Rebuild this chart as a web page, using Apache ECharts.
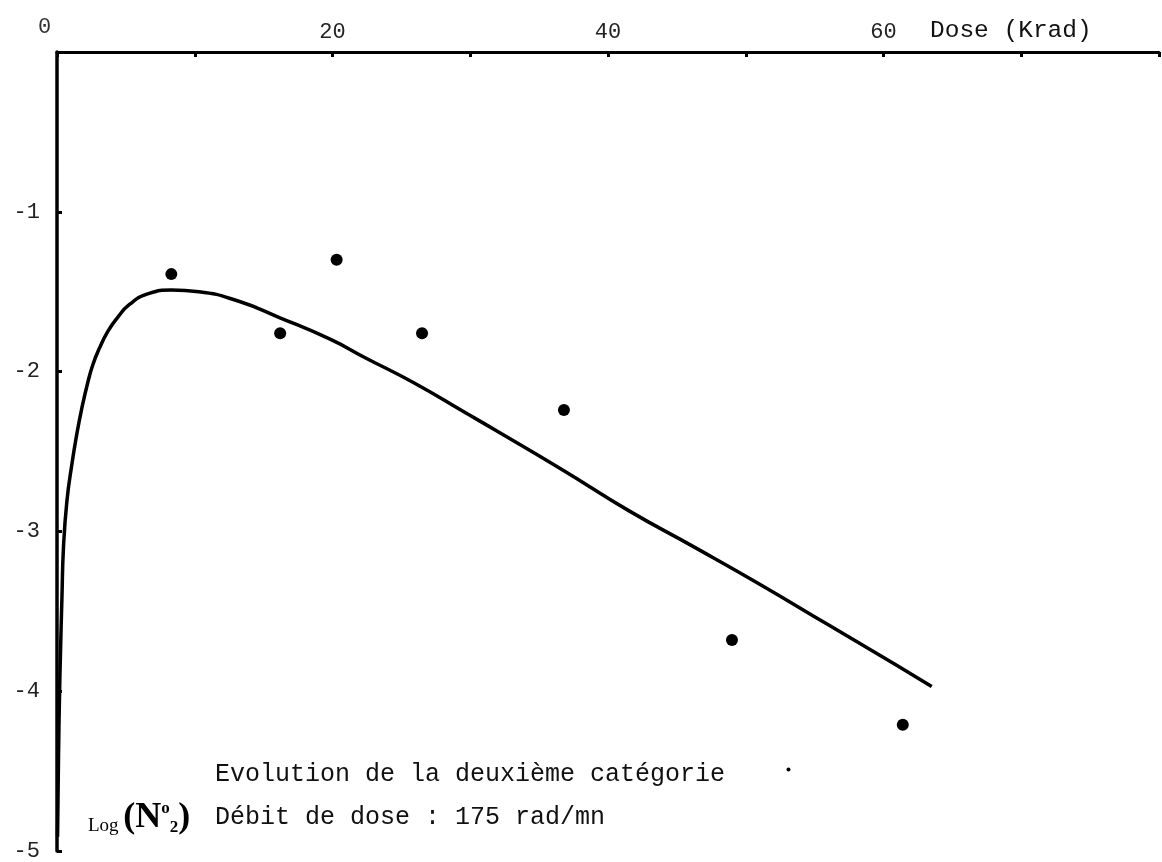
<!DOCTYPE html>
<html>
<head>
<meta charset="utf-8">
<title>Evolution de la deuxième catégorie</title>
<script src="https://cdn.jsdelivr.net/npm/echarts@6/dist/echarts.min.js"></script>
<style>
    html, body { margin: 0; padding: 0; background: #fff; }
    #chart { width: 1162px; height: 862px; }
</style>
</head>
<body>
<div id="chart"></div>
<script>
// points mesurés : dose (Krad) / Log(N2)
var pointDose = [8.3, 16.2, 20.3, 26.5, 36.8, 49.0, 61.4];
var pointLog = [-1.39, -1.76, -1.30, -1.76, -2.24, -3.68, -4.21];

// petit point isolé en bas
var strayDose = [53.1];
var strayLog = [-4.49];

// courbe tracée à la main
var curveDose = [0.04, 0.11, 0.18, 0.25, 0.36, 0.47, 0.72, 1.08, 1.44, 1.80, 2.23, 2.59, 3.10, 3.68, 4.32, 5.26, 6.70, 8.29, 10.3, 13.2, 16.1, 19.9, 22.3, 25.9, 29.5, 31.9, 36.8, 41.5, 46.3, 51.2, 55.9, 60.8, 63.5];
var curveLog = [-4.91, -4.41, -4.04, -3.77, -3.41, -3.10, -2.81, -2.58, -2.39, -2.23, -2.07, -1.96, -1.85, -1.75, -1.67, -1.58, -1.51, -1.49, -1.50, -1.56, -1.66, -1.80, -1.91, -2.07, -2.25, -2.37, -2.62, -2.87, -3.10, -3.34, -3.58, -3.83, -3.97];

// graduations affichées
var doseLabels = [20, 40, 60];
var logLabels = [-1, -2, -3, -4, -5];

var pairs = function (xs, ys) {
    return xs.map(function (x, i) { return [x, ys[i]]; });
};

var typeFont = 'Liberation Mono';

var option = {
    backgroundColor: '#fff',
    animation: false,
    grid: {
        left: 57,
        top: 52,
        width: 1110,
        height: 803
    },
    xAxis: {
        type: 'value',
        position: 'top',
        min: 0,
        max: 80,
        interval: 10,
        axisLine: {
            onZero: false,
            lineStyle: {color: '#000', width: 3}
        },
        axisTick: {
            inside: true,
            length: 5,
            lineStyle: {color: '#000', width: 3}
        },
        splitLine: {show: false},
        axisLabel: {
            margin: 9,
            fontFamily: typeFont,
            fontSize: 22,
            color: '#222',
            formatter: function (v) {
                return doseLabels.indexOf(v) >= 0 ? String(v) : '';
            }
        }
    },
    yAxis: {
        type: 'value',
        min: -5,
        max: 0,
        interval: 1,
        axisLine: {
            show: true,
            onZero: false,
            lineStyle: {color: '#000', width: 3.5}
        },
        axisTick: {
            show: true,
            inside: true,
            length: 5,
            lineStyle: {color: '#000', width: 3}
        },
        splitLine: {show: false},
        axisLabel: {
            margin: 17,
            fontFamily: typeFont,
            fontSize: 22,
            color: '#222',
            formatter: function (v) {
                return logLabels.indexOf(v) >= 0 ? String(v) : '';
            }
        }
    },
    series: [
        {
            name: 'courbe',
            type: 'line',
            smooth: 0.5,
            showSymbol: false,
            data: pairs(curveDose, curveLog),
            lineStyle: {color: '#000', width: 3.5}
        },
        {
            name: 'mesures',
            type: 'scatter',
            symbolSize: 12,
            itemStyle: {color: '#000', opacity: 1},
            data: pairs(pointDose, pointLog)
        },
        {
            name: 'point',
            type: 'scatter',
            symbolSize: 4,
            itemStyle: {color: '#000', opacity: 1},
            data: pairs(strayDose, strayLog)
        }
    ],
    graphic: [
        {
            type: 'text', left: 38, top: 16,
            style: {text: '0', font: '22px "Liberation Mono"', fill: '#333'}
        },
        {
            type: 'text', left: 930, top: 18,
            style: {text: 'Dose (Krad)', font: '24.5px "Liberation Mono"', fill: '#111'}
        },
        {
            type: 'text', left: 215, top: 762,
            style: {text: 'Evolution de la deuxième catégorie', font: '25px "Liberation Mono"', fill: '#111'}
        },
        {
            type: 'text', left: 215, top: 805,
            style: {text: 'Débit de dose : 175 rad/mn', font: '25px "Liberation Mono"', fill: '#111'}
        },
        {
            type: 'text', left: 88, top: 800,
            style: {
                text: '{a|Log }{b|(N}{c|o}{d|2}{b|)}',
                rich: {
                    a: {fontFamily: 'Liberation Serif', fontSize: 19, fill: '#000', verticalAlign: 'bottom'},
                    b: {fontFamily: 'Liberation Serif', fontSize: 36, fontWeight: 'bold', fill: '#000'},
                    c: {fontFamily: 'Liberation Serif', fontSize: 17, fontWeight: 'bold', fill: '#000', verticalAlign: 'top'},
                    d: {fontFamily: 'Liberation Serif', fontSize: 17, fontWeight: 'bold', fill: '#000', verticalAlign: 'bottom'}
                }
            }
        }
    ]
};

var myChart = echarts.init(document.getElementById('chart'));
myChart.setOption(option);
</script>
</body>
</html>
